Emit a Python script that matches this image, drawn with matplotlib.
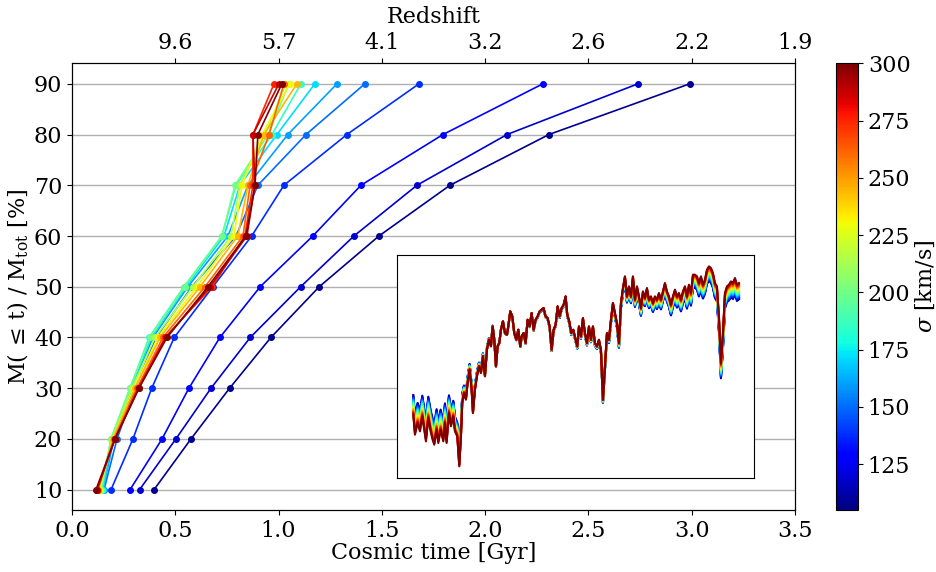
import numpy as np
import matplotlib
matplotlib.use("Agg")
import matplotlib.pyplot as plt
from matplotlib import cm, colors

plt.rcParams['font.family'] = ['DejaVu Serif']
plt.rcParams['mathtext.fontset'] = 'dejavuserif'

# ---- data ----
levels = [10, 20, 30, 40, 50, 60, 70, 80, 90]   # M(<=t)/Mtot [%]
sigmas = [108, 118, 128, 138, 150, 160, 172, 185, 200, 215, 230, 245, 262, 275, 288, 300]  # km/s
t_108 = [0.397, 0.576, 0.763, 0.963, 1.197, 1.486, 1.830, 2.309, 2.991]
t_118 = [0.327, 0.503, 0.673, 0.863, 1.107, 1.365, 1.670, 2.106, 2.740]
t_128 = [0.281, 0.436, 0.566, 0.716, 0.911, 1.166, 1.399, 1.796, 2.280]
t_138 = [0.189, 0.295, 0.386, 0.495, 0.682, 0.870, 1.026, 1.331, 1.680]
t_150 = [0.155, 0.218, 0.305, 0.407, 0.581, 0.794, 0.900, 1.133, 1.418]
t_160 = [0.150, 0.203, 0.290, 0.392, 0.561, 0.755, 0.852, 1.045, 1.283]
t_172 = [0.150, 0.194, 0.286, 0.382, 0.552, 0.736, 0.813, 0.992, 1.176]
t_185 = [0.145, 0.189, 0.281, 0.373, 0.542, 0.726, 0.794, 0.968, 1.108]
t_200 = [0.140, 0.189, 0.281, 0.378, 0.547, 0.726, 0.789, 0.949, 1.050]
t_215 = [0.136, 0.194, 0.290, 0.402, 0.586, 0.770, 0.813, 0.934, 1.036]
t_230 = [0.131, 0.198, 0.300, 0.416, 0.605, 0.784, 0.823, 0.920, 1.055]
t_245 = [0.126, 0.198, 0.305, 0.426, 0.620, 0.803, 0.852, 0.929, 1.089]
t_262 = [0.126, 0.203, 0.315, 0.440, 0.644, 0.828, 0.862, 0.954, 1.026]
t_275 = [0.121, 0.208, 0.319, 0.450, 0.678, 0.837, 0.876, 0.876, 0.978]
t_288 = [0.121, 0.208, 0.324, 0.455, 0.668, 0.847, 0.886, 0.876, 1.002]
t_300 = [0.116, 0.208, 0.324, 0.460, 0.658, 0.842, 0.886, 0.900, 1.016]
times = [t_108, t_118, t_128, t_138, t_150, t_160, t_172, t_185, t_200,
         t_215, t_230, t_245, t_262, t_275, t_288, t_300]

top_ticks = [0.5, 1.0, 1.5, 2.0, 2.5, 3.0, 3.5]
top_labels = ['9.6', '5.7', '4.1', '3.2', '2.6', '2.2', '1.9']

# inset: highest-sigma curve (arbitrary units) and the spread of the low-sigma curves
inset_x = [55, 60, 68, 75, 82, 88, 93, 100, 107, 113, 118, 125, 130, 137, 145, 150, 155, 162, 168, 175,
           180, 187, 193, 198, 202, 207, 213, 218, 224, 230, 234, 240, 246, 252, 258, 264, 270, 276, 282, 288,
           293, 298, 303, 308, 313, 318, 324, 330, 336, 340, 346, 352, 358, 364, 370, 376, 380, 386, 392, 398,
           404, 410, 416, 422, 428, 434, 440, 446, 452, 458, 464, 470, 476, 482, 488, 494, 500, 506, 512, 517,
           523, 529, 535, 541, 547, 552, 558, 564, 570, 576, 582, 588, 594, 600, 606, 612, 618, 624, 630, 636,
           642, 648, 654, 660, 666, 672, 678, 684, 690, 696, 702, 708, 714, 720, 726, 732, 738, 744, 750, 756,
           762, 768, 774, 780, 786, 792, 798, 804, 810, 816, 822, 828, 834, 840, 846, 852, 858, 864, 870, 876,
           882, 888, 894, 900, 906, 912, 918, 924, 930, 936, 942, 948, 954, 960, 966, 972, 978, 984, 990, 996,
           1002, 1008, 1014, 1020, 1026, 1032]
inset_depth = [495, 555, 520, 545, 500, 540, 575, 505, 545, 570, 585, 540, 580, 540, 575, 520, 580, 490, 530, 500,
               545, 560, 650, 560, 460, 430, 450, 400, 360, 420, 490, 420, 380, 350, 370, 320, 380, 300, 270, 290,
               230, 270, 350, 290, 280, 240, 215, 250, 255, 230, 185, 200, 250, 270, 240, 290, 260, 250, 280, 210,
               230, 190, 240, 210, 200, 185, 180, 175, 200, 205, 230, 300, 240, 225, 170, 200, 175, 165, 140, 195,
               215, 250, 240, 265, 290, 230, 260, 205, 250, 280, 230, 270, 230, 280, 290, 270, 300, 450, 350, 250,
               270, 210, 160, 190, 220, 280, 160, 115, 80, 140, 110, 140, 80, 150, 110, 140, 175, 125, 145, 115,
               150, 140, 160, 140, 150, 130, 150, 125, 100, 125, 140, 165, 140, 120, 140, 130, 150, 125, 110, 140,
               105, 130, 75, 75, 80, 100, 80, 105, 90, 60, 50, 55, 70, 100, 110, 200, 340, 250, 130, 110,
               105, 95, 100, 85, 105, 100]
spread_x = [55, 100, 150, 190, 210, 260, 300, 500, 650, 700, 800, 900, 950, 1032]
spread_v = [-60, -65, -60, -40, -20, -10, 0, 5, 10, 20, 30, 40, 45, 50]

FS = 16

# ---- figure ----
fig = plt.figure(figsize=(9.36, 5.72), dpi=100)
ax = fig.add_axes([0.0769, 0.1084, 0.7724, 0.7806])
norm = colors.Normalize(vmin=105, vmax=300)
cmap = plt.get_cmap('jet')

for s, t in zip(sigmas, times):
    ax.plot(t, levels, '-o', color=cmap(norm(s)), lw=1.2, ms=4, zorder=3)

ax.set_xlim(0, 3.5)
ax.set_ylim(6, 94)
ax.set_yticks(levels)
ax.set_xticks([0.0, 0.5, 1.0, 1.5, 2.0, 2.5, 3.0, 3.5])
ax.yaxis.grid(True, color='#b0b0b0', lw=1)
ax.set_axisbelow(True)
ax.tick_params(labelsize=FS)
ax.set_xlabel('Cosmic time [Gyr]', fontsize=FS, labelpad=0)
ax.set_ylabel(r'M($\,\leq\,$t) / M$_{\rm tot}$ [%]', fontsize=FS, labelpad=2)

ax2 = ax.twiny()
ax2.set_xlim(ax.get_xlim())
ax2.set_xticks(top_ticks)
ax2.set_xticklabels(top_labels)
ax2.tick_params(labelsize=FS)
ax2.set_xlabel('Redshift', fontsize=FS, labelpad=6)

# colorbar
cax = fig.add_axes([0.8932, 0.1084, 0.0235, 0.7806])
sm = cm.ScalarMappable(norm=norm, cmap=cmap)
cb = fig.colorbar(sm, cax=cax)
cb.set_ticks([125, 150, 175, 200, 225, 250, 275, 300])
cb.ax.tick_params(labelsize=FS)
cb.set_label(r'$\sigma$ [km/s]', fontsize=FS, labelpad=2)

# inset
iax = fig.add_axes([0.4241, 0.1643, 0.3814, 0.3899])
base = np.array(inset_depth, dtype=float)
spr = np.interp(inset_x, spread_x, spread_v)
for s in sigmas:
    frac = (300 - s) / (300 - 105)
    iax.plot(inset_x, -(base + spr * frac), color=cmap(norm(s)), lw=1.5)
iax.set_xlim(6, 1077)
iax.set_ylim(-685, -16)
iax.set_xticks([])
iax.set_yticks([])

fig.savefig('out.png', dpi=100)
